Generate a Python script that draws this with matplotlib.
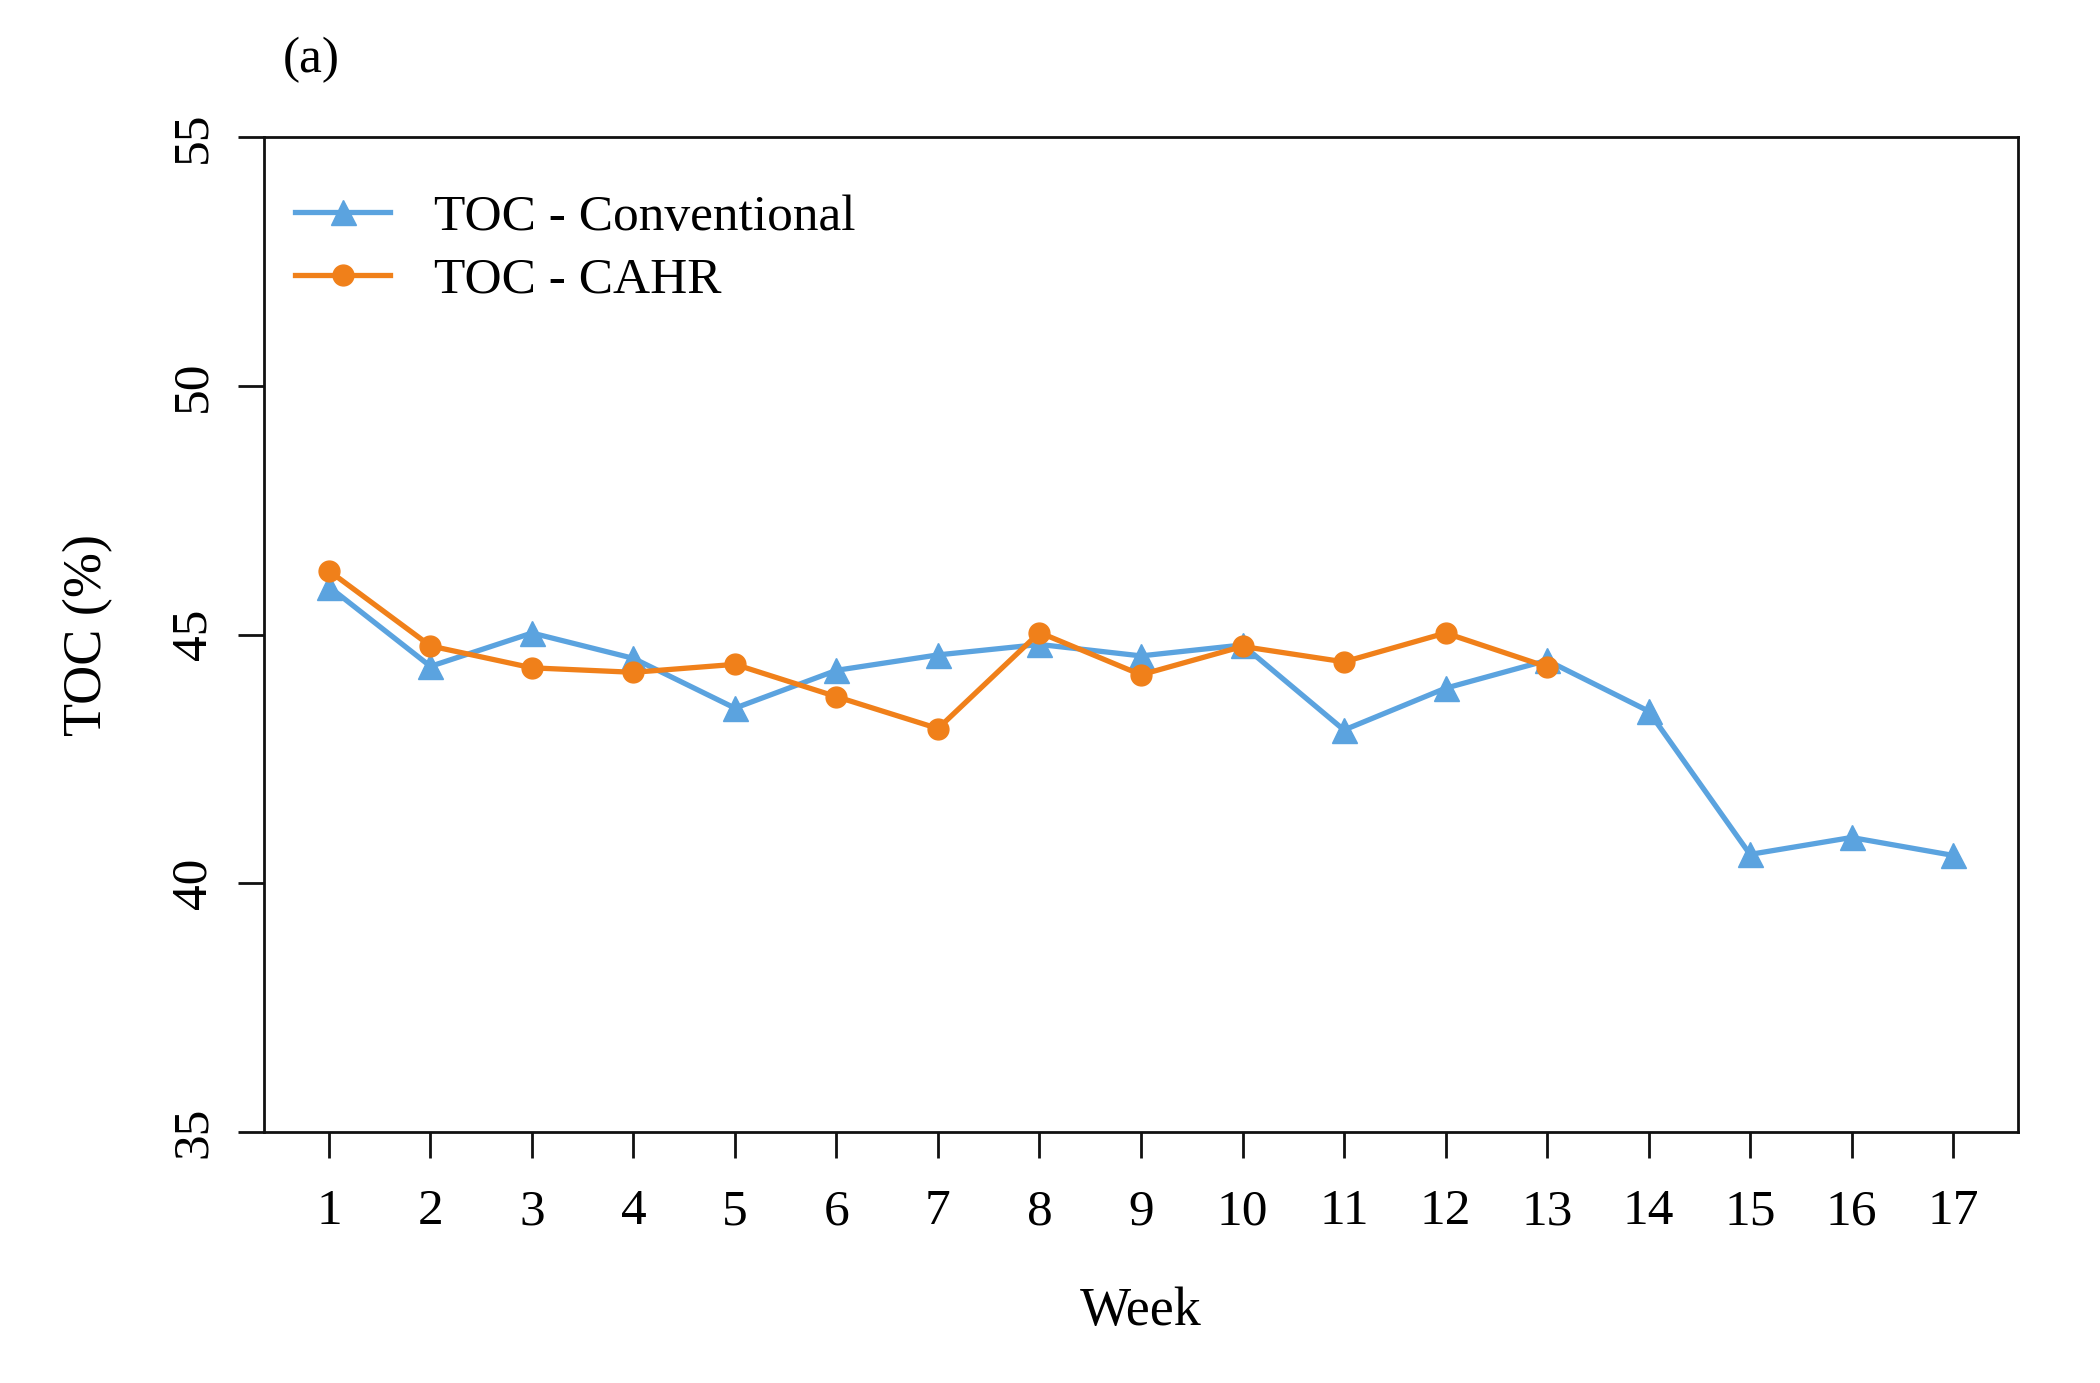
import matplotlib
matplotlib.use("Agg")
import matplotlib.pyplot as plt

weeks = list(range(1, 18))
toc_conventional = [45.96, 44.36, 45.03, 44.52, 43.52, 44.28, 44.59, 44.80, 44.57,
                    44.79, 43.08, 43.92, 44.48, 43.46, 40.58, 40.92, 40.56]
weeks_cahr = list(range(1, 14))
toc_cahr = [46.28, 44.77, 44.33, 44.24, 44.40, 43.75, 43.11, 45.04, 44.19,
            44.76, 44.45, 45.03, 44.35]
y_ticks = [35, 40, 45, 50, 55]

plt.rcParams['font.family'] = ['Liberation Serif', 'DejaVu Serif']

fig = plt.figure(figsize=(21, 13.83), dpi=100)
ax = fig.add_axes([264/2100, 1 - 1132/1383, (2018-264)/2100, (1132-137)/1383])

blue = '#5BA3DF'
orange = '#F0801A'

ax.plot(weeks, toc_conventional, color=blue, lw=3.8, marker='^', ms=18,
        label='TOC - Conventional', zorder=3)
ax.plot(weeks_cahr, toc_cahr, color=orange, lw=3.8, marker='o', ms=15,
        label='TOC - CAHR', zorder=4)

ax.set_xlim(0.36, 17.64)
ax.set_ylim(35, 55)
ax.set_xticks(weeks)
ax.set_xticklabels([str(w) for w in weeks])
ax.set_yticks(y_ticks)
ax.set_yticklabels([str(v) for v in y_ticks], rotation=90, va='center')

for s in ax.spines.values():
    s.set_linewidth(2.0)
    s.set_color('#111111')

ax.tick_params(axis='both', direction='out', length=19, width=2.0, labelsize=37,
               color='#111111')
ax.tick_params(axis='x', pad=22)
ax.tick_params(axis='y', pad=15)

ax.set_xlabel('Week', fontsize=39)
ax.xaxis.set_label_coords(0.5, (1132 - 1312) / 995)
ax.xaxis.label.set_va('center')
ax.set_ylabel('TOC (%)', fontsize=39)
ax.yaxis.set_label_coords((88 - 264) / 1754, 0.5)
ax.yaxis.label.set_va('center')

fig.text(311/2100, 1 - 60/1383, '(a)', fontsize=37, ha='center', va='center')

leg = ax.legend(loc='upper left', bbox_to_anchor=(0.006, 0.963), frameon=False,
                fontsize=37, handlelength=1.85, handletextpad=0.85,
                labelspacing=0.3, borderaxespad=0.0)

fig.savefig('out.png', dpi=100)
